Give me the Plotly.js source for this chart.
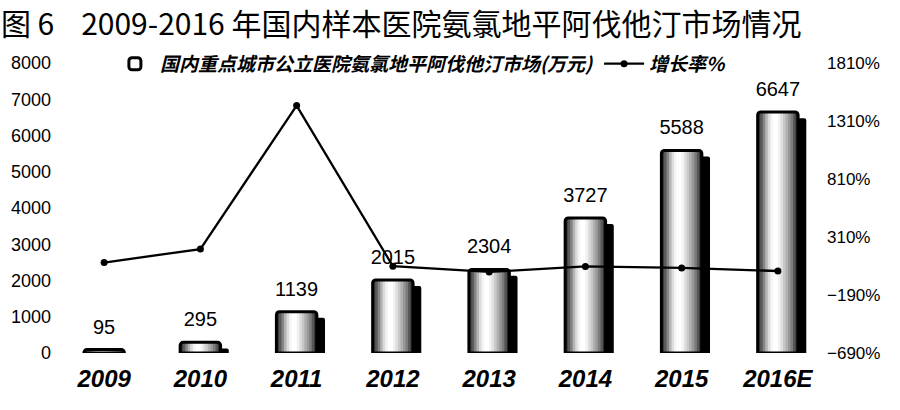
<!DOCTYPE html>
<html>
<head>
<meta charset="utf-8">
<script src="https://cdn.plot.ly/plotly-3.0.1.min.js"></script>
<style>
  html, body { margin: 0; padding: 0; background: #fff; }
  #myDiv { width: 900px; height: 410px; }
</style>
</head>
<body>
<div id="myDiv"></div>
<script>
var years = ['2009', '2010', '2011', '2012', '2013', '2014', '2015', '2016E'];
var market = [95, 295, 1139, 2015, 2304, 3727, 5588, 6647];
var growth = [90, 206, 1443, 58, 9, 56, 43, 17];

var BAR_W = 0.42;
var SHADOW_DX = 0.085;
var SHADOW_DROP = 170;
// grey shades across the cylinder, left to right
var shades = ['#3a3a3a', '#5a5a5a', '#858585', '#b4b4b4', '#dcdcdc', '#f4f4f4', '#ffffff', '#ffffff',
              '#f2f2f2', '#dedede', '#c8c8c8', '#b0b0b0', '#989898', '#7c7c7c', '#575757', '#2c2c2c'];

var data = [];

// black shadow behind each bar
data.push({
  type: 'bar', x: years,
  y: market.map(function (v) { return Math.max(v - SHADOW_DROP, 0); }),
  width: BAR_W, offset: -BAR_W / 2 + SHADOW_DX,
  marker: {color: '#000', line: {width: 0}, cornerradius: 2},
  showlegend: false, hoverinfo: 'skip'
});

// gradient strips, each one overlapping the next so no seams show
var sw = BAR_W / shades.length;
shades.forEach(function (c, i) {
  var last = i === shades.length - 1;
  data.push({
    type: 'bar', x: years, y: market,
    width: last ? sw : sw * 2, offset: -BAR_W / 2 + i * sw,
    marker: {color: c, line: {width: 0}},
    showlegend: false, hoverinfo: 'skip'
  });
});

// outline (also the legend entry)
data.push({
  type: 'bar', name: '国内重点城市公立医院氨氯地平阿伐他汀市场(万元)',
  x: years, y: market,
  width: BAR_W, offset: -BAR_W / 2,
  marker: {color: 'rgba(0,0,0,0)', line: {color: '#000', width: 3}, cornerradius: 3}
});

// value labels
data.push({
  type: 'scatter', mode: 'markers+text', x: years, y: market,
  text: market.map(String), textposition: 'top center',
  textfont: {family: 'Liberation Sans, Arial, sans-serif', size: 20, color: '#000'},
  marker: {size: 16, opacity: 0},
  showlegend: false, hoverinfo: 'skip'
});

// growth rate line
data.push({
  type: 'scatter', mode: 'lines+markers', name: '增长率%',
  x: years, y: growth, yaxis: 'y2',
  line: {color: '#000', width: 2.3},
  marker: {color: '#000', size: 7}
});

var layout = {
  width: 900, height: 410,
  margin: {l: 56, r: 74, t: 63, b: 57},
  paper_bgcolor: '#fff', plot_bgcolor: '#fff',
  barmode: 'overlay',
  font: {family: 'Liberation Sans, Arial, sans-serif', color: '#000'},
  title: {
    text: '图 6\u00a0\u00a0\u00a0\u00a02009-2016 年国内样本医院氨氯地平阿伐他汀市场情况',
    font: {family: 'Noto Sans CJK SC', size: 30, weight: 'normal', color: '#000'},
    x: 0.001, xanchor: 'left', xref: 'container',
    y: 0.94, yanchor: 'middle', yref: 'container'
  },
  xaxis: {
    type: 'category', range: [-0.5, 7.5],
    showgrid: false, showline: false, zeroline: false, ticks: '',
    ticklabelstandoff: 9,
    tickfont: {size: 24, weight: 'bold', style: 'italic', color: '#000'}
  },
  yaxis: {
    range: [0, 8000], dtick: 1000,
    showgrid: false, showline: false, zeroline: false,
    ticklabelstandoff: 4,
    tickfont: {size: 18, color: '#000'}
  },
  yaxis2: {
    overlaying: 'y', side: 'right',
    range: [-690, 1810], tick0: -690, dtick: 500, ticksuffix: '%',
    showgrid: false, showline: false, zeroline: false,
    tickfont: {size: 17, color: '#000'}
  },
  legend: {
    orientation: 'h', x: 0.07, xanchor: 'left', y: 0.997, yanchor: 'middle',
    bgcolor: 'rgba(0,0,0,0)', itemwidth: 40,
    font: {family: 'Noto Sans CJK SC', size: 19, style: 'italic', weight: 'bold', color: '#000'}
  },
  showlegend: true
};

Plotly.newPlot('myDiv', data, layout, {displayModeBar: false, staticPlot: true});
</script>
</body>
</html>
